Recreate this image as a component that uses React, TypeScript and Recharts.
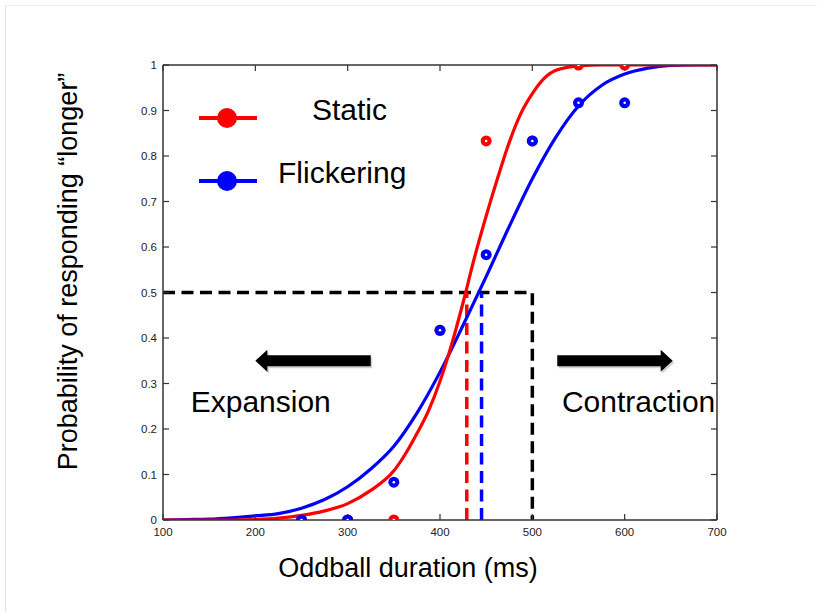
import React from 'react';
import {
  ComposedChart,
  Line,
  Scatter,
  XAxis,
  YAxis,
  ReferenceLine,
  ReferenceDot,
  Legend,
  Label,
} from 'recharts';

// Oddball durations tested (ms) and proportion of "longer" responses
const durations = [250, 300, 350, 400, 450, 500, 550, 600];
const staticProp = [0, 0, 0, 0.417, 0.833, 0.833, 1, 1];
const flickerProp = [0, 0, 0.083, 0.417, 0.583, 0.833, 0.917, 0.917];

// Fitted psychometric curve, static condition
const staticFitX = [
  100, 125, 150, 175, 200, 225, 250, 275, 300, 325, 350, 362.5, 375, 387.5, 400,
  412.5, 425, 437.5, 450, 462.5, 475, 487.5, 500, 512.5, 525, 550, 575, 600, 650, 700,
];
const staticFit = [
  0, 0, 0, 0, 0.001, 0.004, 0.01, 0.02, 0.036, 0.065, 0.108, 0.145, 0.19, 0.24, 0.305,
  0.385, 0.478, 0.578, 0.668, 0.752, 0.83, 0.893, 0.937, 0.97, 0.988, 0.998, 1, 1, 1, 1,
];

// Fitted psychometric curve, flickering condition
const flickerFitX = [
  100, 125, 150, 175, 200, 225, 250, 275, 300, 325, 350, 375, 400,
  425, 450, 475, 500, 525, 550, 575, 600, 625, 650, 675, 700,
];
const flickerFit = [
  0, 0.001, 0.002, 0.005, 0.009, 0.014, 0.026, 0.045, 0.073, 0.112, 0.162, 0.235, 0.325,
  0.428, 0.535, 0.645, 0.75, 0.84, 0.91, 0.955, 0.98, 0.993, 0.999, 1, 1,
];

// Points of subjective equality and the standard duration
const pseStatic = 429;
const pseFlicker = 445;
const standardDuration = 500;
const criterion = 0.5;

const xTicks = [100, 200, 300, 400, 500, 600, 700];
const yTicks = [0, 0.1, 0.2, 0.3, 0.4, 0.5, 0.6, 0.7, 0.8, 0.9, 1];

const seriesNames = ['Static', 'Flickering'];

const RED = '#ff0000';
const BLUE = '#0000ff';
const AXIS = '#333333';
const FONT = '"Liberation Sans", Arial, Helvetica, sans-serif';

const toPoints = (xs: number[], ys: number[]) => xs.map((x, i) => ({ x, y: ys[i] }));

const staticPts = toPoints(durations, staticProp);
const flickerPts = toPoints(durations, flickerProp);
const staticCurve = toPoints(staticFitX, staticFit);
const flickerCurve = toPoints(flickerFitX, flickerFit);
const criterionPath = [
  { x: 100, y: criterion },
  { x: standardDuration, y: criterion },
  { x: standardDuration, y: 0 },
];
const pseStaticPath = [
  { x: pseStatic, y: 0 },
  { x: pseStatic, y: criterion },
];
const pseFlickerPath = [
  { x: pseFlicker, y: 0 },
  { x: pseFlicker, y: criterion },
];

const ringMarker = (color: string) => (props: any) => {
  const { cx, cy } = props;
  if (cx == null || cy == null) return <g />;
  return (
    <g>
      <circle cx={cx} cy={cy} r={5.5} fill={color} />
      <circle cx={cx} cy={cy} r={1.3} fill="#fff" />
    </g>
  );
};

const noTick = () => <g />;

const arrowShape = (props: any) => {
  const { x1, y1, x2 } = props;
  if (x1 == null) return <g />;
  const dir = Math.sign(x2 - x1);
  const headLen = 12;
  const shaft = 5.5;
  const head = 11;
  const xb = x2 - dir * headLen;
  const d = `M${x1},${y1 - shaft} L${xb},${y1 - shaft} L${xb},${y1 - head} L${x2},${y1} L${xb},${y1 + head} L${xb},${y1 + shaft} L${x1},${y1 + shaft} Z`;
  return (
    <g>
      <path d={d} fill="#000" opacity={0.18} transform="translate(1.5,2)" />
      <path d={d} fill="#000" />
    </g>
  );
};

const textShape = (text: string) => (props: any) => {
  const { cx, cy } = props;
  if (cx == null) return <g />;
  return (
    <text x={cx} y={cy} fontSize={30} fontFamily={FONT} fill="#000">
      {text}
    </text>
  );
};

const legendColors = [RED, BLUE];
const legendTextX = [122, 88];

const renderLegend = () => (
  <svg width={300} height={120} style={{ display: 'block' }}>
    {seriesNames.map((name, i) => {
      const cy = 28 + i * 63;
      return (
        <g key={name}>
          <line x1={9} x2={67} y1={cy} y2={cy} stroke={legendColors[i]} strokeWidth={4} />
          <circle cx={37} cy={cy} r={10} fill={legendColors[i]} />
          <text x={legendTextX[i]} y={cy + 2} fontSize={30} fontFamily={FONT} fill="#000">
            {name}
          </text>
        </g>
      );
    })}
  </svg>
);

const yTitle = (props: any) => {
  const vb = props.viewBox || {};
  const cx = vb.x + vb.width - 95;
  const cy = vb.y + vb.height / 2 - 21;
  return (
    <text
      x={cx}
      y={cy}
      transform={`rotate(-90, ${cx}, ${cy})`}
      textAnchor="middle"
      dominantBaseline="central"
      fontSize={27}
      fontFamily={FONT}
      fill="#000"
    >
      Probability of responding “longer”
    </text>
  );
};

const xTitle = (props: any) => {
  const vb = props.viewBox || {};
  const cx = vb.x + vb.width / 2 - 32;
  const cy = vb.y + 57;
  return (
    <text x={cx} y={cy} textAnchor="middle" fontSize={27} fontFamily={FONT} fill="#000">
      Oddball duration (ms)
    </text>
  );
};

const tickStyle = { fill: '#222', fontSize: 11.5, fontFamily: FONT };
const axisLineStyle = { stroke: AXIS, strokeWidth: 1.5 };
const tickLineStyle = { stroke: AXIS, strokeWidth: 1.2 };

export default function App() {
  return (
    <div
      style={{
        position: 'absolute',
        left: 0,
        top: 0,
        width: 817,
        height: 612,
        background: '#fff',
        overflow: 'hidden',
      }}
    >
      <div
        style={{
          position: 'absolute',
          left: 5,
          top: 5,
          width: 820,
          height: 620,
          borderLeft: '1px solid #e2e2e2',
          borderTop: '1px solid #ededed',
        }}
      />
      <ComposedChart
        width={817}
        height={612}
        margin={{ top: 65, right: 100, bottom: 62, left: 103 }}
      >
        <XAxis
          xAxisId="x"
          type="number"
          dataKey="x"
          domain={[100, 700]}
          allowDataOverflow
          ticks={xTicks}
          interval={0}
          height={30}
          tickLine={false}
          tickSize={0}
          tickMargin={8}
          axisLine={axisLineStyle}
          tick={tickStyle}
        >
          <Label content={xTitle} />
        </XAxis>
        <XAxis
          xAxisId="xt"
          orientation="top"
          mirror
          type="number"
          dataKey="x"
          domain={[100, 700]}
          allowDataOverflow
          ticks={xTicks}
          interval={0}
          tick={noTick}
          tickSize={6}
          tickLine={tickLineStyle}
          axisLine={axisLineStyle}
        />
        <XAxis
          xAxisId="xb"
          orientation="bottom"
          mirror
          type="number"
          dataKey="x"
          domain={[100, 700]}
          allowDataOverflow
          ticks={xTicks}
          interval={0}
          tick={noTick}
          tickSize={6}
          tickLine={tickLineStyle}
          axisLine={false}
        />
        <YAxis
          yAxisId="y"
          type="number"
          dataKey="y"
          domain={[0, 1]}
          allowDataOverflow
          ticks={yTicks}
          interval={0}
          width={60}
          tickLine={false}
          tickSize={0}
          tickMargin={6}
          axisLine={axisLineStyle}
          tick={tickStyle}
        >
          <Label content={yTitle} />
        </YAxis>
        <YAxis
          yAxisId="yl"
          orientation="left"
          mirror
          type="number"
          dataKey="y"
          domain={[0, 1]}
          allowDataOverflow
          ticks={yTicks}
          interval={0}
          tick={noTick}
          tickSize={6}
          tickLine={tickLineStyle}
          axisLine={false}
        />
        <YAxis
          yAxisId="yr"
          orientation="right"
          mirror
          type="number"
          dataKey="y"
          domain={[0, 1]}
          allowDataOverflow
          ticks={yTicks}
          interval={0}
          tick={noTick}
          tickSize={6}
          tickLine={tickLineStyle}
          axisLine={axisLineStyle}
        />

        <Legend
          layout="horizontal"
          verticalAlign="middle"
          align="center"
          wrapperStyle={{ left: 190, top: 90, width: 300, height: 120 }}
          content={renderLegend}
        />

        <Line
          xAxisId="x"
          yAxisId="y"
          data={criterionPath}
          dataKey="y"
          type="linear"
          stroke="#000"
          strokeWidth={3.5}
          strokeDasharray="12 6.5"
          dot={false}
          activeDot={false}
          legendType="none"
          isAnimationActive={false}
        />
        <Line
          xAxisId="x"
          yAxisId="y"
          data={pseStaticPath}
          dataKey="y"
          type="linear"
          stroke={RED}
          strokeWidth={3.5}
          strokeDasharray="12 6.5"
          dot={false}
          activeDot={false}
          legendType="none"
          isAnimationActive={false}
        />
        <Line
          xAxisId="x"
          yAxisId="y"
          data={pseFlickerPath}
          dataKey="y"
          type="linear"
          stroke={BLUE}
          strokeWidth={3.5}
          strokeDasharray="12 6.5"
          dot={false}
          activeDot={false}
          legendType="none"
          isAnimationActive={false}
        />

        <Line
          xAxisId="x"
          yAxisId="y"
          name={seriesNames[1]}
          data={flickerCurve}
          dataKey="y"
          type="monotone"
          stroke={BLUE}
          strokeWidth={3.2}
          dot={false}
          activeDot={false}
          isAnimationActive={false}
        />
        <Line
          xAxisId="x"
          yAxisId="y"
          name={seriesNames[0]}
          data={staticCurve}
          dataKey="y"
          type="monotone"
          stroke={RED}
          strokeWidth={3.2}
          dot={false}
          activeDot={false}
          isAnimationActive={false}
        />

        <Scatter
          xAxisId="x"
          yAxisId="y"
          data={staticPts}
          dataKey="y"
          fill={RED}
          shape={ringMarker(RED)}
          isAnimationActive={false}
        />
        <Scatter
          xAxisId="x"
          yAxisId="y"
          data={flickerPts}
          dataKey="y"
          fill={BLUE}
          shape={ringMarker(BLUE)}
          isAnimationActive={false}
        />

        <ReferenceLine
          xAxisId="x"
          yAxisId="y"
          segment={[
            { x: 325, y: 0.35 },
            { x: 200, y: 0.35 },
          ]}
          shape={arrowShape}
        />
        <ReferenceLine
          xAxisId="x"
          yAxisId="y"
          segment={[
            { x: 527, y: 0.35 },
            { x: 652, y: 0.35 },
          ]}
          shape={arrowShape}
        />
        <ReferenceDot xAxisId="x" yAxisId="y" x={130} y={0.238} r={0} shape={textShape('Expansion')} />
        <ReferenceDot xAxisId="x" yAxisId="y" x={532} y={0.238} r={0} shape={textShape('Contraction')} />
      </ComposedChart>
    </div>
  );
}
